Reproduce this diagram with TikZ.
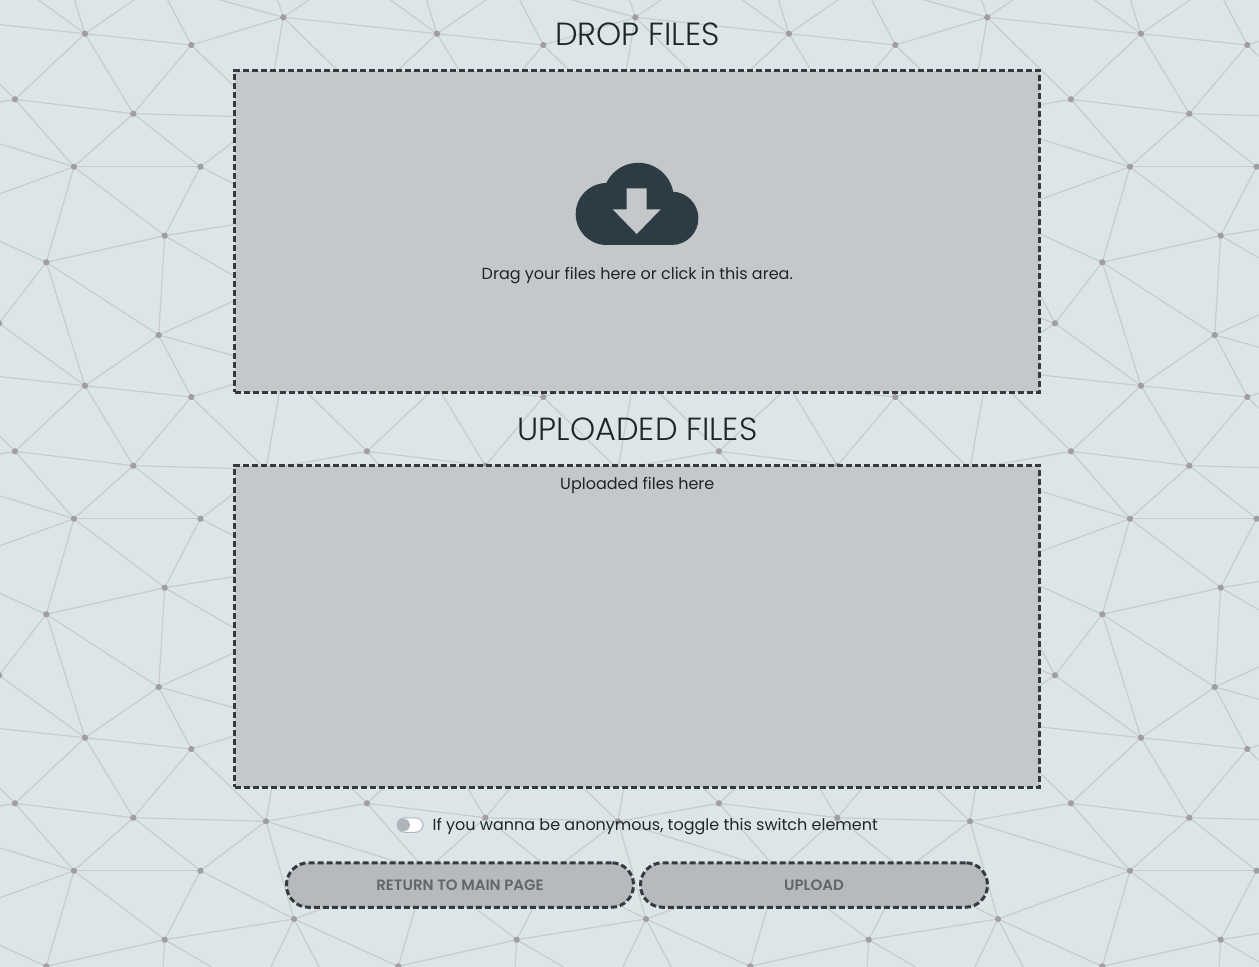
\documentclass[tikz,border=0pt]{standalone}
\usepackage{fontspec}
\setmainfont{Poppins}
\newfontfamily\lightfont{Poppins Light}
\newfontfamily\semifont{Poppins SemiBold}
\usetikzlibrary{positioning}
\definecolor{cpage}{HTML}{DCE6E8}
\definecolor{cmesh}{HTML}{C9CCCE}
\definecolor{cdot}{HTML}{9F9FA2}
\definecolor{cdash}{HTML}{343A40}
\definecolor{cbox}{HTML}{C4C8CB}
\definecolor{cbutton}{HTML}{B6BABE}
\definecolor{cbuttontext}{HTML}{62666A}
\definecolor{ctext}{HTML}{212529}
\definecolor{cknob}{HTML}{ADB5BD}
\definecolor{ccloud}{HTML}{2D3C44}
\tikzset{
  meshline/.style={draw=cmesh, line width=1.2pt},
  meshdot/.style={fill=cdot},
  filebox/.style={draw=cdash, fill=cbox, line width=3pt, dash pattern=on 6pt off 3pt, minimum width=804.8pt, minimum height=321.7pt, inner sep=0pt},
  formbutton/.style={draw=cdash, fill=cbutton, line width=3pt, dash pattern=on 6pt off 3pt, rounded corners=22pt, minimum width=347pt, minimum height=44.5pt, inner sep=0pt, text=cbuttontext, font=\semifont\fontsize{15}{15}\selectfont},
  pagetitle/.style={text=ctext, inner sep=0pt, font=\lightfont\fontsize{32}{32}\selectfont},
  bodytext/.style={text=ctext, inner sep=0pt, font=\fontsize{16}{16}\selectfont},
  switchtrack/.style={draw=cknob, fill=white, line width=1pt, rounded corners=7.5pt, minimum width=26pt, minimum height=14.5pt, inner sep=0pt},
  switchknob/.style={circle, fill=cknob, minimum size=12.6pt, inner sep=0pt},
}
\begin{document}
\begin{tikzpicture}[x=1pt, y=-1pt]
  \clip (0,0) rectangle (1259,967);
  \fill[cpage] (0,0) rectangle (1259,967);
  \def\meshpoints{A/85/33.7, B/191.3/45, C/283.3/17.3, D/15/99.3, E/133.3/113.7, F/74/166.7, G/200.5/166.7, H/164.7/235.7, I/46.3/262.3, J/158.7/335, K/-1/323.3, L/266/117.3, M/294/215, N/258/290}
  \foreach \i in {-1,...,3} {
    \foreach \j in {-1,...,3} {
      \begin{scope}[shift={(352*\i,352*\j)}]
        \foreach \p/\x/\y in \meshpoints { \coordinate (\p) at (\x,\y); }
        \coordinate (Cw) at (-68.7,17.3);
        \coordinate (De) at (367,99.3);
        \coordinate (Lw) at (-86,117.3);
        \coordinate (Mw) at (-58,215);
        \coordinate (Nw) at (-94,290);
        \coordinate (Jn) at (158.7,-17);
        \coordinate (In) at (46.3,-89.7);
        \coordinate (Kn) at (-1,-28.7);
        \coordinate (Nn) at (258,-62);
        \coordinate (Kne) at (351,-28.7);
        \foreach \a/\b in {A/B, A/D, A/E, A/Cw, A/Jn, A/In, A/Kn, B/C, B/E, B/L, B/Jn, C/Jn, C/Nn, C/Kne, C/L, C/De, D/E, D/F, D/Lw, E/F, E/G, E/L, F/G, F/H, F/I, F/Lw, F/Mw, G/H, G/L, G/M, H/I, H/J, H/M, H/N, I/J, I/K, I/Mw, J/N, K/Mw, K/Nw, L/M, M/N} {
          \draw[meshline] (\a) -- (\b);
        }
      \end{scope}
    }
  }
  \foreach \i in {-1,...,3} {
    \foreach \j in {-1,...,2} {
      \begin{scope}[shift={(352*\i,352*\j)}]
        \foreach \p/\x/\y in \meshpoints { \fill[meshdot] (\x,\y) circle (3.1pt); }
      \end{scope}
    }
  }
  \node[filebox] (dropzone) at (637.1,231.6) {};
  \node[filebox] (uploadzone) at (637.1,626.6) {};
  \node[pagetitle] (droptitle) at (637.5,34) {DROP FILES};
  \node[pagetitle] (uploadtitle) at (637.5,429) {UPLOADED FILES};
  \begin{scope}[ccloud]
    \fill (606.7,214) circle (31);
    \fill (638.3,198.3) circle (35.5);
    \fill (671.7,218.3) circle (26.7);
    \fill (606.7,200) rectangle (671.7,245);
  \end{scope}
  \fill[cbox] (626.7,188.3) -- (646.7,188.3) -- (646.7,209.3) -- (660.7,209.3) -- (636.7,234) -- (612.7,209.3) -- (626.7,209.3) -- cycle;
  \node[bodytext] (droptext) at (637.3,275.5) {Drag your files here or click in this area.};
  \node[bodytext] (uploadtext) at (637.3,485) {Uploaded files here};
  \node[switchtrack] (switch) at (410,825) {};
  \node[switchknob] (knob) at (403.6,825) {};
  \node[bodytext, right=9pt of switch, yshift=-2pt] (switchtext) {If you wanna be anonymous, toggle this switch element};
  \node[formbutton] (returnbutton) at (460,885) {RETURN TO MAIN PAGE};
  \node[formbutton, right=4pt of returnbutton] (uploadbutton) {UPLOAD};
\end{tikzpicture}
\end{document}
